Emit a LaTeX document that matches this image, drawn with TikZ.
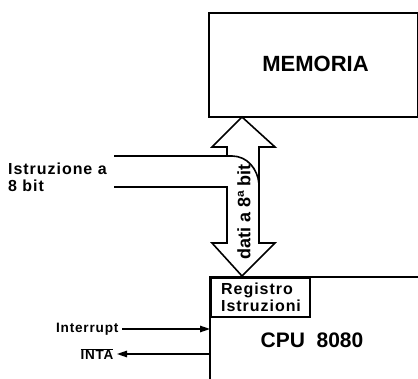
\documentclass[tikz,border=0pt]{standalone}
\usepackage{fontspec}
\setmainfont{Liberation Sans}
\newfontfamily\spaced[LetterSpace=6]{Liberation Sans}
\usetikzlibrary{arrows.meta}

\newcommand{\fsz}[1]{\bfseries\fontsize{#1}{#1}\selectfont}

\begin{document}
\begin{tikzpicture}[x=1pt,y=-1pt]
\useasboundingbox (0,0) rectangle (418,379);
\begin{scope}[every node/.style={inner sep=0pt,anchor=north west,line width=1.7pt}]
  \node[draw, minimum width=209pt, minimum height=104pt] (mem) at (208,12) {};
  \node[minimum width=216pt, minimum height=110pt] (cpu) at (210,277) {};
  \node[draw, minimum width=99pt, minimum height=39pt] (reg) at (210,277) {};
\end{scope}

% CPU box cut by the right edge of the page
\draw[line width=1.7pt, line join=miter] (cpu.north east) -- (cpu.north west) -- (cpu.south west);

\node[font=\fsz{22}] (memlbl) at (315.5,64) {MEMORIA};
\node[font=\fsz{21}] (cpulbl) at (312,340) {CPU\ \ 8080};
\node[font=\fsz{16}\spaced, align=left, anchor=west, inner sep=0pt] (reglbl) at (221,297) {Registro\\[1pt]Istruzioni};
\node[font=\fsz{16}\spaced, align=left, anchor=west, inner sep=0pt] (istr) at (8,177) {Istruzione a\\[1pt]8 bit};
\node[font=\fsz{18}, rotate=90] (bus) at (244,212) {dati a 8ª bit};

% bus a 8 bit
\begin{scope}[line width=1.6pt, line join=miter]
  \draw (114,156) -- (232,156) to[out=0,in=95] (259,184);
  \draw (227,156) -- (227,147) -- (212,147) -- (242,117) -- (275,147) -- (259,147)
     -- (259,243) -- (275,243) -- (242,276) -- (212,243) -- (227,243) -- (227,187) -- (114,187);
\end{scope}

\node[font=\fsz{13.6}\spaced, anchor=east] (intr) at (122,329) {Interrupt};
\node[font=\fsz{13.5}\spaced, anchor=east] (inta) at (117,354) {$\overline{\mbox{INTA}}$};

\begin{scope}[>={Triangle[length=10pt,width=6.5pt]},
              every edge/.style={draw=black, line width=1.3pt}]
    \path [->] (intr.east) edge (cpu.west |- intr.east);
    \path [->] (cpu.west |- inta.east) edge (inta.east);
\end{scope}
\end{tikzpicture}
\end{document}
